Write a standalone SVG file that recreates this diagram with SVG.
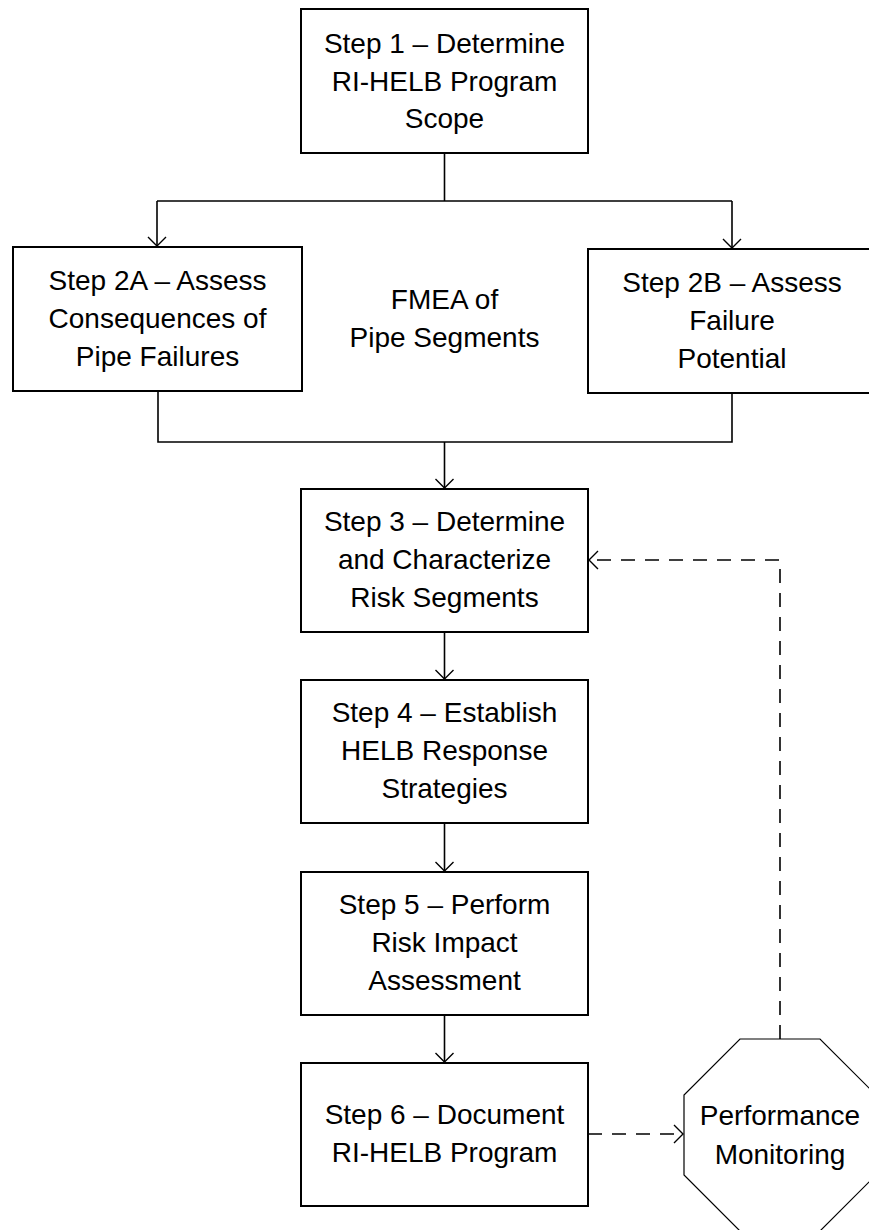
<svg xmlns="http://www.w3.org/2000/svg" width="869" height="1230" viewBox="0 0 869 1230">
<style>
.box{fill:#fff;stroke:#000;stroke-width:2}
.oct{fill:#fff;stroke:#000;stroke-width:1.2}
.t{font-family:"Liberation Sans",Arial,sans-serif;font-size:28px;fill:#000;text-anchor:middle}
.c{fill:none;stroke:#000;stroke-width:1.6}
.d{fill:none;stroke:#000;stroke-width:1.6;stroke-dasharray:14 10}
</style>
<defs>
<marker id="ah" markerUnits="userSpaceOnUse" markerWidth="22" markerHeight="22" refX="11" refY="11" orient="auto">
<path d="M2,2 L11,11 L2,20" fill="none" stroke="#000" stroke-width="1.4"/>
</marker>
</defs>
<rect width="869" height="1230" fill="#fff"/>
<g id="connectors">
<path class="c" d="M444.5,153 V201 M157,201 H732"/>
<path class="c" d="M157,201 V246" marker-end="url(#ah)"/>
<path class="c" d="M732,201 V248" marker-end="url(#ah)"/>
<path class="c" d="M158,391 V442 H732 V393"/>
<path class="c" d="M444.5,442 V488" marker-end="url(#ah)"/>
<path class="c" d="M444.5,632 V679" marker-end="url(#ah)"/>
<path class="c" d="M444.5,823 V871" marker-end="url(#ah)"/>
<path class="c" d="M444.5,1015 V1062" marker-end="url(#ah)"/>
<path class="d" d="M588,1134 H683" marker-end="url(#ah)"/>
<path class="d" d="M780,1039 V560 H589" marker-end="url(#ah)"/>
</g>
<g id="step1">
<rect class="box" x="301" y="9" width="287" height="144"/>
<text class="t" x="444.5" y="53">Step 1 – Determine</text>
<text class="t" x="444.5" y="91">RI-HELB Program</text>
<text class="t" x="444.5" y="128">Scope</text>
</g>
<g id="step2a">
<rect class="box" x="13" y="247" width="289" height="144"/>
<text class="t" x="157.5" y="290">Step 2A – Assess</text>
<text class="t" x="157.5" y="328">Consequences of</text>
<text class="t" x="157.5" y="366">Pipe Failures</text>
</g>
<g id="fmea">
<text class="t" x="444.5" y="309">FMEA of</text>
<text class="t" x="444.5" y="347">Pipe Segments</text>
</g>
<g id="step2b">
<rect class="box" x="588" y="249" width="288" height="144"/>
<text class="t" x="732" y="292">Step 2B – Assess</text>
<text class="t" x="732" y="330">Failure</text>
<text class="t" x="732" y="368">Potential</text>
</g>
<g id="step3">
<rect class="box" x="301" y="489" width="287" height="143"/>
<text class="t" x="444.5" y="531">Step 3 – Determine</text>
<text class="t" x="444.5" y="569">and Characterize</text>
<text class="t" x="444.5" y="607">Risk Segments</text>
</g>
<g id="step4">
<rect class="box" x="301" y="680" width="287" height="143"/>
<text class="t" x="444.5" y="722">Step 4 – Establish</text>
<text class="t" x="444.5" y="760">HELB Response</text>
<text class="t" x="444.5" y="798">Strategies</text>
</g>
<g id="step5">
<rect class="box" x="301" y="872" width="287" height="143"/>
<text class="t" x="444.5" y="914">Step 5 – Perform</text>
<text class="t" x="444.5" y="952">Risk Impact</text>
<text class="t" x="444.5" y="990">Assessment</text>
</g>
<g id="step6">
<rect class="box" x="301" y="1063" width="287" height="143"/>
<text class="t" x="444.5" y="1124">Step 6 – Document</text>
<text class="t" x="444.5" y="1162">RI-HELB Program</text>
</g>
<g id="monitoring">
<polygon class="oct" points="740,1039 820,1039 876,1095 876,1175 820,1231 740,1231 684,1175 684,1095"/>
<text class="t" x="780" y="1125">Performance</text>
<text class="t" x="780" y="1164">Monitoring</text>
</g>
</svg>
